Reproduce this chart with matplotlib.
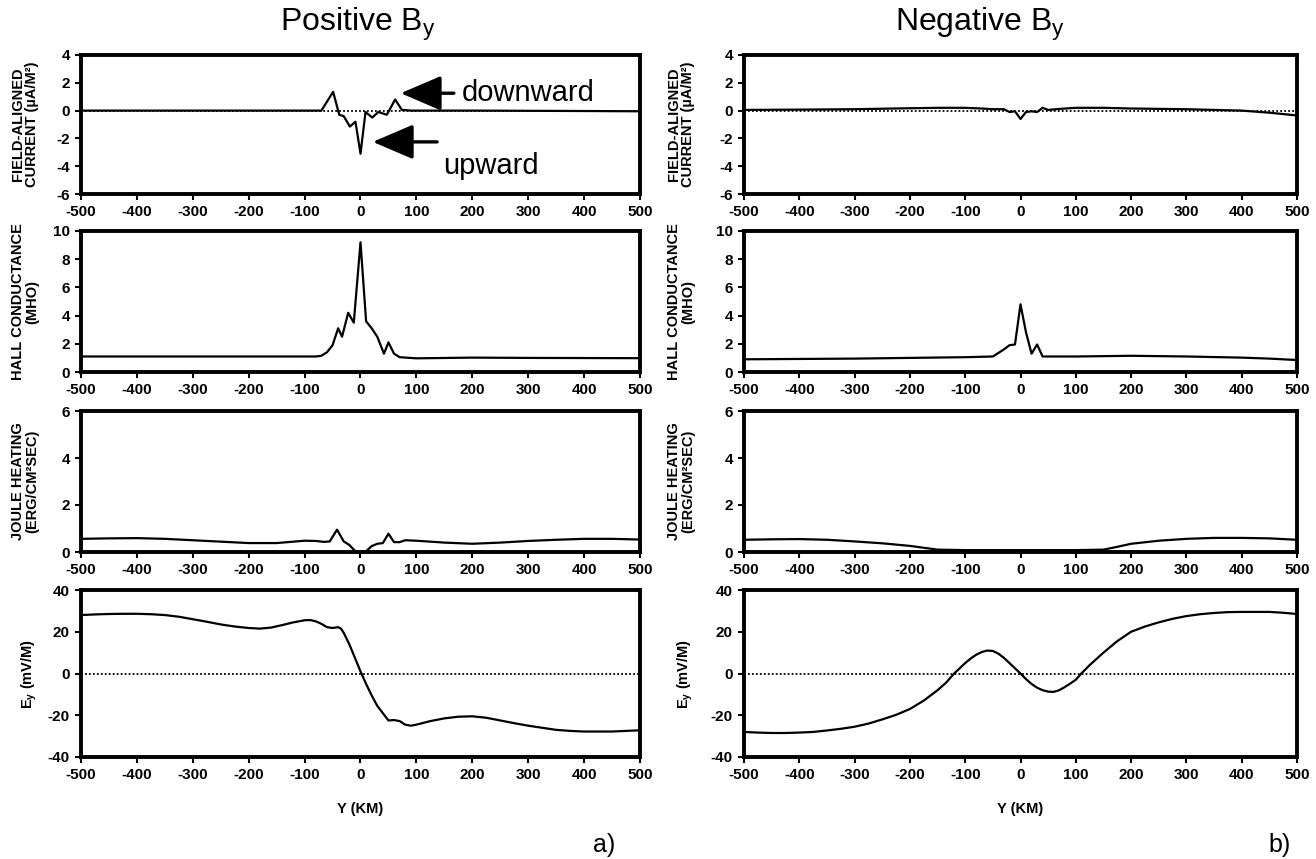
import numpy as np
import matplotlib.pyplot as plt

plt.rcParams['font.family'] = ['Liberation Sans', 'DejaVu Sans']
plt.rcParams['mathtext.fontset'] = 'custom'
plt.rcParams['mathtext.rm'] = 'Liberation Sans'
plt.rcParams['mathtext.bf'] = 'Liberation Sans:bold'
plt.rcParams['axes.unicode_minus'] = False

# ---- data (Y in km) ----
# positive By
fac_pos_y = [-500, -300, -100, -70, -49, -38, -30, -19, -9, 0, 9, 21, 32, 47, 62, 74, 91, 200, 400, 500]
fac_pos_v = [0.0, 0.0, 0.0, 0.0, 1.35, -0.3, -0.4, -1.15, -0.8, -3.1, -0.1, -0.5, -0.1, -0.3, 0.8, 0.05, 0.0, 0.0, -0.03, -0.05]

hall_pos_y = [-500, -300, -100, -80, -70, -60, -50, -40, -33, -22, -12, 0, 10, 20, 30, 42, 50, 60, 70, 100, 200, 300, 500]
hall_pos_v = [1.1, 1.1, 1.1, 1.1, 1.15, 1.4, 1.9, 3.1, 2.5, 4.2, 3.5, 9.2, 3.6, 3.1, 2.5, 1.3, 2.1, 1.3, 1.05, 0.97, 1.02, 1.0, 0.98]

joule_pos_y = [-500, -450, -400, -350, -300, -250, -200, -150, -120, -100, -80, -65, -55, -42, -30, -20, -10, 0, 10, 20, 30, 40, 50, 60, 70, 80, 100, 150, 200, 250, 300, 350, 400, 450, 500]
joule_pos_v = [0.56, 0.58, 0.59, 0.56, 0.5, 0.44, 0.38, 0.38, 0.44, 0.48, 0.47, 0.43, 0.45, 0.95, 0.45, 0.3, 0.05, 0.02, 0.03, 0.25, 0.35, 0.38, 0.78, 0.42, 0.42, 0.5, 0.48, 0.4, 0.35, 0.4, 0.47, 0.52, 0.56, 0.56, 0.53]

ey_pos_y = [-500, -475, -450, -425, -400, -375, -350, -325, -300, -275, -250, -225, -200, -180, -160, -140, -120, -100, -90, -80, -70, -60, -50, -40, -35, -30, -20, -10, 0, 10, 20, 30, 40, 50, 60, 70, 80, 90, 100, 125, 150, 175, 200, 225, 250, 275, 300, 325, 350, 375, 400, 450, 475, 500]
ey_pos_v = [28, 28.3, 28.5, 28.6, 28.6, 28.4, 28, 27.2, 26, 24.8, 23.5, 22.5, 21.8, 21.5, 22, 23.2, 24.5, 25.5, 25.6, 25, 23.8, 22.2, 21.8, 22.2, 21.5, 19.5, 14, 7.5, 1, -5, -10.5, -15.5, -19, -22.5, -22.3, -22.8, -24.5, -25, -24.5, -22.8, -21.5, -20.7, -20.5, -21.2, -22.5, -23.8, -25, -26, -27, -27.5, -27.8, -27.8, -27.5, -27.2]

# negative By
fac_neg_y = [-500, -400, -300, -200, -150, -100, -70, -50, -30, -20, -10, 0, 10, 20, 30, 40, 50, 70, 100, 150, 200, 300, 400, 450, 500]
fac_neg_v = [0.05, 0.07, 0.1, 0.17, 0.2, 0.2, 0.15, 0.1, 0.1, -0.1, -0.05, -0.6, -0.1, -0.05, -0.1, 0.2, 0.05, 0.12, 0.2, 0.2, 0.15, 0.1, 0.0, -0.15, -0.35]

hall_neg_y = [-500, -300, -100, -50, -30, -20, -10, 0, 10, 20, 30, 40, 100, 200, 300, 400, 450, 500]
hall_neg_v = [0.9, 0.95, 1.05, 1.1, 1.6, 1.9, 1.95, 4.8, 2.8, 1.3, 1.95, 1.1, 1.1, 1.15, 1.1, 1.02, 0.95, 0.85]

joule_neg_y = [-500, -450, -400, -350, -300, -250, -200, -175, -150, -100, 0, 100, 150, 175, 200, 250, 300, 350, 400, 450, 500]
joule_neg_v = [0.52, 0.54, 0.55, 0.52, 0.45, 0.37, 0.26, 0.18, 0.1, 0.08, 0.08, 0.08, 0.1, 0.22, 0.35, 0.48, 0.56, 0.6, 0.6, 0.58, 0.52]

ey_neg_y = [-500, -475, -450, -425, -400, -375, -350, -325, -300, -275, -250, -225, -200, -175, -150, -135, -120, -110, -100, -90, -80, -70, -60, -50, -40, -30, -20, -10, 0, 10, 20, 30, 40, 50, 60, 70, 80, 90, 100, 110, 125, 150, 175, 200, 225, 250, 275, 300, 325, 350, 375, 400, 425, 450, 475, 500]
ey_neg_v = [-28, -28.3, -28.5, -28.5, -28.3, -28, -27.3, -26.5, -25.5, -24, -22, -19.8, -17, -13, -8, -4.5, 0, 2.5, 5, 7.2, 9, 10.3, 11, 10.8, 9.5, 7.5, 5, 2.5, 0, -2.7, -5, -6.8, -8, -8.7, -8.8, -8, -6.5, -4.8, -3, 0, 4, 10, 15.5, 20, 22.5, 24.5, 26.2, 27.5, 28.4, 29, 29.4, 29.5, 29.5, 29.5, 29.1, 28.5]

xticks = np.arange(-500, 501, 100)
ylabels = ['FIELD-ALIGNED\nCURRENT (\u00b5A/M\u00b2)', 'HALL CONDUCTANCE\n(MHO)',
           'JOULE HEATING\n(ERG/CM\u00b2SEC)', r'$\mathbf{E_y}$ (mV/M)']
ylims = [(-6, 4), (0, 10), (0, 6), (-40, 40)]
yticks = [np.arange(-6, 5, 2), np.arange(0, 11, 2), np.arange(0, 7, 2), np.arange(-40, 41, 20)]

columns = [
    [(fac_pos_y, fac_pos_v), (hall_pos_y, hall_pos_v), (joule_pos_y, joule_pos_v), (ey_pos_y, ey_pos_v)],
    [(fac_neg_y, fac_neg_v), (hall_neg_y, hall_neg_v), (joule_neg_y, joule_neg_v), (ey_neg_y, ey_neg_v)],
]

W, H = 1316, 859
fig = plt.figure(figsize=(W / 100, H / 100), dpi=100)

# pixel boxes (left, right) and (top, bottom)
col_px = [(81, 640), (744, 1297)]
row_px = [(55, 194), (231, 372), (411, 552), (590, 757)]
ylab_px = [39, 695]   # right edge of the y label block

axes = {}
for c, (x0, x1) in enumerate(col_px):
    for r, (y0, y1) in enumerate(row_px):
        ax = fig.add_axes([x0 / W, 1 - y1 / H, (x1 - x0) / W, (y1 - y0) / H])
        yy, vv = columns[c][r]
        if r in (0, 3):
            ax.axhline(0, color='black', lw=1.3, ls=(0, (1, 1.2)), zorder=1)
        ax.plot(yy, vv, color='black', lw=1.6, zorder=2)
        ax.set_xlim(-500, 500)
        ax.set_ylim(*ylims[r])
        ax.set_xticks(xticks)
        ax.set_yticks(yticks[r])
        ax.tick_params(direction='out', length=4, width=1.5, labelsize=11, pad=4)
        for lab in ax.get_xticklabels() + ax.get_yticklabels():
            lab.set_fontweight('bold')
        for s in ax.spines.values():
            s.set_linewidth(2.8)
        ax.set_ylabel(ylabels[r], fontsize=10.5, fontweight='bold', linespacing=1.0)
        ax.yaxis.set_label_coords((ylab_px[c] - x0) / (x1 - x0), 0.5)
        if r == 3:
            ax.set_xlabel('Y (KM)', fontsize=10.5, fontweight='bold', labelpad=14)
        axes[(c, r)] = ax

# column titles
fig.text(358 / W, 1 - 24 / H, r'Positive $\mathrm{B_y}$', fontsize=23, ha='center', va='center')
fig.text(980 / W, 1 - 24 / H, r'Negative $\mathrm{B_y}$', fontsize=23, ha='center', va='center')
fig.text(604 / W, 1 - 845 / H, 'a)', fontsize=18, ha='center', va='center')
fig.text(1280 / W, 1 - 845 / H, 'b)', fontsize=18, ha='center', va='center')

# arrows in top-left panel
ax = axes[(0, 0)]
arrow = dict(arrowstyle='-|>,head_length=1.4,head_width=0.6', color='black', lw=2.4, mutation_scale=18)
ax.annotate('', xy=(67, 1.25), xytext=(172, 1.25), arrowprops=arrow)
ax.text(182, 1.3, 'downward', fontsize=21, va='center', ha='left')
ax.annotate('', xy=(17, -2.25), xytext=(142, -2.25), arrowprops=arrow)
ax.text(148, -3.95, 'upward', fontsize=21, va='center', ha='left')

fig.savefig('out.png', dpi=100)
